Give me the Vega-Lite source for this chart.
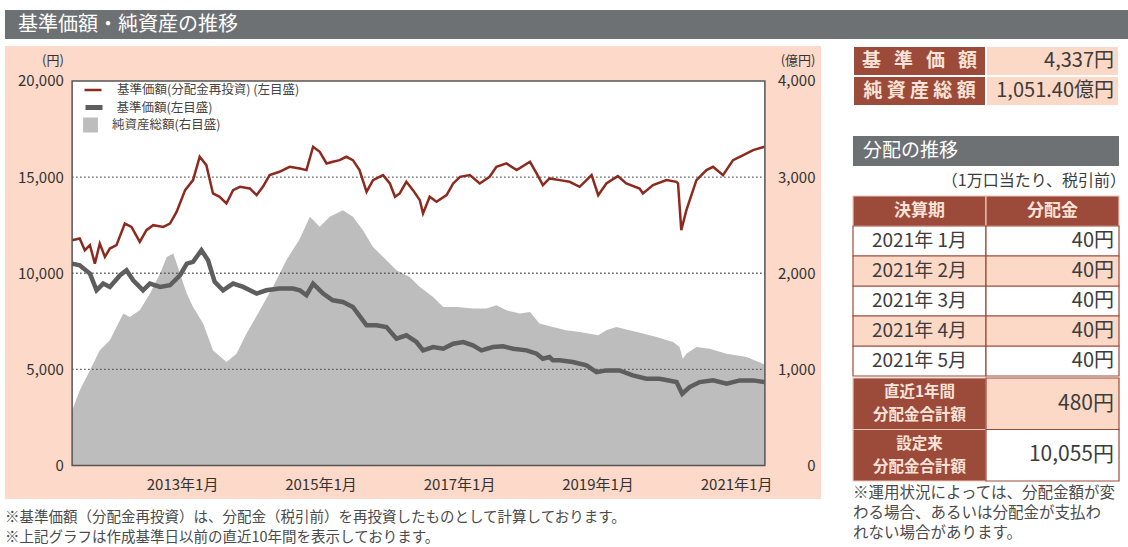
{
  "$schema": "https://vega.github.io/schema/vega-lite/v6.json",
  "background": "white",
  "padding": {"left": 5, "top": 10, "right": 0, "bottom": 0},
  "config": {
    "font": "Noto Sans CJK JP",
    "view": {"stroke": null},
    "axis": {"labelFont": "Noto Sans CJK JP", "titleFont": "Noto Sans CJK JP"},
    "legend": {"labelFont": "Noto Sans CJK JP"},
    "title": {"font": "Noto Sans CJK JP"}
  },
  "datasets": {
    "navr": [
      {"d":"2011-06-01","v":11719},{"d":"2011-07-11","v":11806},{"d":"2011-08-07","v":11198},{"d":"2011-09-03","v":11458},
      {"d":"2011-09-29","v":10503},{"d":"2011-10-25","v":11545},{"d":"2011-11-21","v":10851},{"d":"2011-12-17","v":11285},
      {"d":"2012-01-21","v":11458},{"d":"2012-03-05","v":12587},{"d":"2012-04-09","v":12413},{"d":"2012-05-23","v":11632},
      {"d":"2012-06-27","v":12240},{"d":"2012-08-02","v":12500},{"d":"2012-09-24","v":12413},{"d":"2012-10-29","v":12587},
      {"d":"2012-12-03","v":13194},{"d":"2013-01-17","v":14323},{"d":"2013-02-28","v":14844},{"d":"2013-04-04","v":16059},
      {"d":"2013-05-09","v":15625},{"d":"2013-06-13","v":14149},{"d":"2013-07-18","v":13976},{"d":"2013-08-23","v":13628},
      {"d":"2013-09-27","v":14323},{"d":"2013-11-02","v":14497},{"d":"2013-12-24","v":14410},{"d":"2014-01-29","v":14063},
      {"d":"2014-03-03","v":14497},{"d":"2014-04-08","v":15104},{"d":"2014-05-30","v":15278},{"d":"2014-07-22","v":15538},
      {"d":"2014-09-14","v":15450},{"d":"2014-10-19","v":15365},{"d":"2014-11-23","v":16580},{"d":"2014-12-28","v":16319},
      {"d":"2015-02-02","v":15712},{"d":"2015-03-07","v":15799},{"d":"2015-04-12","v":15885},{"d":"2015-05-17","v":16059},
      {"d":"2015-06-21","v":15885},{"d":"2015-07-26","v":15365},{"d":"2015-09-01","v":14236},{"d":"2015-10-05","v":14844},
      {"d":"2015-11-27","v":15104},{"d":"2016-01-02","v":14670},{"d":"2016-01-29","v":13976},{"d":"2016-02-23","v":14149},
      {"d":"2016-03-29","v":14757},{"d":"2016-05-03","v":14323},{"d":"2016-06-08","v":13802},{"d":"2016-06-25","v":13108},
      {"d":"2016-07-30","v":13976},{"d":"2016-09-04","v":13715},{"d":"2016-10-27","v":14063},{"d":"2016-12-01","v":14670},
      {"d":"2017-01-06","v":15017},{"d":"2017-02-27","v":15104},{"d":"2017-04-20","v":14670},{"d":"2017-06-11","v":15017},
      {"d":"2017-07-17","v":15538},{"d":"2017-09-08","v":15712},{"d":"2017-11-01","v":15365},{"d":"2018-01-10","v":15799},
      {"d":"2018-02-14","v":15191},{"d":"2018-03-19","v":14583},{"d":"2018-04-23","v":14931},{"d":"2018-06-16","v":14844},
      {"d":"2018-08-07","v":14757},{"d":"2018-09-29","v":14497},{"d":"2018-12-01","v":15104},{"d":"2019-01-05","v":14063},
      {"d":"2019-02-17","v":14670},{"d":"2019-04-18","v":15052},{"d":"2019-06-02","v":14670},{"d":"2019-08-11","v":14410},
      {"d":"2019-08-29","v":14149},{"d":"2019-10-21","v":14583},{"d":"2019-12-31","v":14844},{"d":"2020-02-22","v":14757},
      {"d":"2020-03-01","v":14670},{"d":"2020-03-18","v":12240},{"d":"2020-04-14","v":13281},{"d":"2020-06-06","v":14844},
      {"d":"2020-07-29","v":15365},{"d":"2020-09-02","v":15538},{"d":"2020-10-24","v":15104},{"d":"2020-12-16","v":15885},
      {"d":"2021-02-08","v":16146},{"d":"2021-04-01","v":16406},{"d":"2021-05-31","v":16580}
    ],
    "nav": [
      {"d":"2011-06-01","v":10503},{"d":"2011-07-11","v":10417},{"d":"2011-09-03","v":9983},{"d":"2011-10-08","v":9115},
      {"d":"2011-11-12","v":9462},{"d":"2011-12-17","v":9288},{"d":"2012-02-09","v":9896},{"d":"2012-03-14","v":10156},
      {"d":"2012-04-18","v":9635},{"d":"2012-06-09","v":9115},{"d":"2012-07-15","v":9462},{"d":"2012-09-07","v":9288},
      {"d":"2012-10-29","v":9375},{"d":"2012-12-21","v":9896},{"d":"2013-01-26","v":10503},{"d":"2013-02-28","v":10590},
      {"d":"2013-04-13","v":11198},{"d":"2013-05-18","v":10677},{"d":"2013-06-22","v":9549},{"d":"2013-08-05","v":9115},
      {"d":"2013-09-27","v":9462},{"d":"2013-11-19","v":9288},{"d":"2014-01-29","v":8941},{"d":"2014-03-21","v":9115},
      {"d":"2014-05-30","v":9201},{"d":"2014-08-09","v":9201},{"d":"2014-09-14","v":9115},{"d":"2014-10-19","v":8854},
      {"d":"2014-11-23","v":9462},{"d":"2015-01-15","v":8941},{"d":"2015-03-07","v":8594},{"d":"2015-04-29","v":8507},
      {"d":"2015-06-21","v":8247},{"d":"2015-09-01","v":7292},{"d":"2015-10-23","v":7292},{"d":"2015-12-15","v":7205},
      {"d":"2016-02-06","v":6597},{"d":"2016-03-29","v":6771},{"d":"2016-05-21","v":6424},{"d":"2016-06-25","v":5990},
      {"d":"2016-08-17","v":6163},{"d":"2016-10-09","v":6076},{"d":"2016-12-01","v":6337},{"d":"2017-01-23","v":6424},
      {"d":"2017-03-15","v":6250},{"d":"2017-04-29","v":5990},{"d":"2017-06-29","v":6163},{"d":"2017-08-21","v":6198},
      {"d":"2017-10-13","v":6076},{"d":"2017-12-23","v":5990},{"d":"2018-02-14","v":5816},{"d":"2018-03-19","v":5556},
      {"d":"2018-04-23","v":5642},{"d":"2018-05-11","v":5469},{"d":"2018-06-16","v":5469},{"d":"2018-08-24","v":5382},
      {"d":"2018-11-04","v":5208},{"d":"2018-12-27","v":4861},{"d":"2019-02-17","v":4948},{"d":"2019-04-27","v":4948},
      {"d":"2019-07-06","v":4688},{"d":"2019-09-16","v":4514},{"d":"2019-11-25","v":4514},{"d":"2020-02-22","v":4340},
      {"d":"2020-03-23","v":3733},{"d":"2020-05-01","v":4080},{"d":"2020-06-23","v":4340},{"d":"2020-09-02","v":4427},
      {"d":"2020-11-12","v":4253},{"d":"2021-01-21","v":4427},{"d":"2021-04-01","v":4427},{"d":"2021-05-31","v":4337}
    ],
    "aum": [
      {"d":"2011-06-01","v":573},{"d":"2011-07-11","v":781},{"d":"2011-09-03","v":990},{"d":"2011-10-25","v":1198},
      {"d":"2011-12-17","v":1302},{"d":"2012-02-26","v":1580},{"d":"2012-03-31","v":1545},{"d":"2012-05-23","v":1615},
      {"d":"2012-07-15","v":1788},{"d":"2012-09-07","v":1997},{"d":"2012-10-12","v":2170},{"d":"2012-11-16","v":2205},
      {"d":"2012-12-21","v":1997},{"d":"2013-01-26","v":1788},{"d":"2013-02-28","v":1649},{"d":"2013-04-22","v":1476},
      {"d":"2013-06-13","v":1198},{"d":"2013-08-23","v":1076},{"d":"2013-10-15","v":1163},{"d":"2013-12-07","v":1372},
      {"d":"2014-02-15","v":1615},{"d":"2014-04-25","v":1857},{"d":"2014-07-05","v":2135},{"d":"2014-09-14","v":2360},
      {"d":"2014-11-06","v":2587},{"d":"2014-12-28","v":2483},{"d":"2015-02-19","v":2587},{"d":"2015-04-29","v":2656},
      {"d":"2015-06-21","v":2587},{"d":"2015-08-13","v":2448},{"d":"2015-10-05","v":2274},{"d":"2015-12-15","v":2135},
      {"d":"2016-02-06","v":2031},{"d":"2016-04-16","v":1962},{"d":"2016-06-08","v":1857},{"d":"2016-08-17","v":1753},
      {"d":"2016-10-09","v":1649},{"d":"2016-12-19","v":1649},{"d":"2017-03-15","v":1632},{"d":"2017-05-25","v":1632},
      {"d":"2017-07-17","v":1667},{"d":"2017-09-08","v":1615},{"d":"2017-11-18","v":1580},{"d":"2018-01-10","v":1597},
      {"d":"2018-03-01","v":1476},{"d":"2018-05-11","v":1441},{"d":"2018-07-20","v":1406},{"d":"2018-09-29","v":1389},
      {"d":"2019-01-05","v":1354},{"d":"2019-02-17","v":1406},{"d":"2019-04-10","v":1441},{"d":"2019-06-19","v":1406},
      {"d":"2019-08-29","v":1372},{"d":"2019-11-08","v":1337},{"d":"2020-02-04","v":1285},{"d":"2020-03-09","v":1233},
      {"d":"2020-03-26","v":1111},{"d":"2020-04-14","v":1163},{"d":"2020-06-06","v":1233},{"d":"2020-08-15","v":1215},
      {"d":"2020-11-12","v":1163},{"d":"2021-02-26","v":1128},{"d":"2021-05-31","v":1051}
    ],
    "grid": [{"g":5000},{"g":10000},{"g":15000}],
    "one": [{"k":"plot"}],
    "cells": [
      {"r":"t1a","c":"L","t":"基\u00a0\u00a0\u00a0準\u00a0\u00a0\u00a0価\u00a0\u00a0\u00a0額"},{"r":"t1a","c":"R","t":"4,337円"},
      {"r":"t1b","c":"L","t":"純\u00a0資\u00a0産\u00a0総\u00a0額"},{"r":"t1b","c":"R","t":"1,051.40億円"},
      {"r":"bar","c":"L","t":"分配の推移"},{"r":"bar","c":"R","t":""},
      {"r":"note","c":"R","t":"（1万口当たり、税引前）"},
      {"r":"hdr","c":"L","t":"決算期"},{"r":"hdr","c":"R","t":"分配金"},
      {"r":"r1","c":"L","t":"2021年 1月"},{"r":"r1","c":"R","t":"40円"},
      {"r":"r2","c":"L","t":"2021年 2月"},{"r":"r2","c":"R","t":"40円"},
      {"r":"r3","c":"L","t":"2021年 3月"},{"r":"r3","c":"R","t":"40円"},
      {"r":"r4","c":"L","t":"2021年 4月"},{"r":"r4","c":"R","t":"40円"},
      {"r":"r5","c":"L","t":"2021年 5月"},{"r":"r5","c":"R","t":"40円"}
    ],
    "totals": [
      {"r":"t3a","c":"L","t":"直近1年間\n分配金合計額"},{"r":"t3a","c":"R","t":"480円"},
      {"r":"t3b","c":"L","t":"設定来\n分配金合計額"},{"r":"t3b","c":"R","t":"10,055円"}
    ]
  },
  "vconcat": [
    {
      "width": 1123,
      "height": 29,
      "view": {"fill": "#6d7174", "stroke": null},
      "data": {"values": [{"t": "基準価額・純資産の推移"}]},
      "mark": {"type": "text", "align": "left", "baseline": "middle", "dx": 13, "fontSize": 20, "color": "white"},
      "encoding": {
        "x": {"field": "t", "type": "nominal", "axis": null, "bandPosition": 0, "scale": {"type": "band", "paddingInner": 0, "paddingOuter": 0}},
        "text": {"field": "t"}
      }
    },
    {
      "hconcat": [
        {
          "width": 816,
          "height": 453,
          "view": {"fill": "#fcd9c8", "stroke": null},
          "title": {
            "text": ["※基準価額（分配金再投資）は、分配金（税引前）を再投資したものとして計算しております。", "※上記グラフは作成基準日以前の直近10年間を表示しております。"],
            "orient": "bottom", "anchor": "start", "frame": "group", "offset": 12,
            "fontSize": 14.5, "fontWeight": "normal", "color": "#4a4a4a", "lineHeight": 20
          },
          "resolve": {"scale": {"y": "independent"}},
          "layer": [
            {
              "data": {"name": "one"},
              "mark": {"type": "rect", "fill": "white"},
              "encoding": {
                "x": {"datum": {"year": 2011, "month": 6, "date": 1, "utc": true}, "type": "temporal",
                      "scale": {"type": "utc", "domain": [{"year": 2010, "month": 6, "date": 12, "utc": true}, {"year": 2022, "month": 3, "date": 25, "utc": true}]},
                      "axis": {"orient": "bottom", "offset": -33.5,
                               "values": [{"year": 2013, "month": 1, "date": 1, "utc": true}, {"year": 2015, "month": 1, "date": 1, "utc": true}, {"year": 2017, "month": 1, "date": 1, "utc": true}, {"year": 2019, "month": 1, "date": 1, "utc": true}, {"year": 2021, "month": 1, "date": 1, "utc": true}],
                               "format": "%Y年%-m月", "title": null, "domain": false, "grid": false,
                               "ticks": true, "tickSize": -7, "tickColor": "#444", "tickWidth": 1.2,
                               "labelPadding": 25.5, "labelBaseline": "middle", "labelFontSize": 15, "labelColor": "#333",
                               "labelFlush": false, "labelOverlap": false}},
                "x2": {"datum": {"year": 2021, "month": 6, "date": 2, "utc": true}},
                "y": {"datum": 0, "type": "quantitative",
                      "scale": {"domain": [-1742.5, 21820.5], "nice": false, "zero": false},
                      "axis": {"orient": "left", "offset": -67.3, "values": [0, 5000, 10000, 15000, 20000], "format": ",d",
                               "title": "(円)", "titleAngle": 0, "titleX": -9, "titleY": 14, "titleAlign": "right", "titleBaseline": "middle",
                               "titleFontSize": 13, "titleFontWeight": "normal", "titleColor": "#333",
                               "domain": false, "ticks": false, "grid": false, "labelPadding": 9, "labelFontSize": 15, "labelColor": "#333",
                               "labelOverlap": false, "labelFlush": false}},
                "y2": {"datum": 20000}
              }
            },
            {
              "data": {"name": "aum"},
              "mark": {"type": "area", "opacity": 1},
              "encoding": {
                "x": {"field": "d", "type": "temporal",
                      "axis": {"orient": "bottom", "offset": -33.5,
                               "values": [{"year": 2013, "month": 1, "date": 1, "utc": true}, {"year": 2015, "month": 1, "date": 1, "utc": true}, {"year": 2017, "month": 1, "date": 1, "utc": true}, {"year": 2019, "month": 1, "date": 1, "utc": true}, {"year": 2021, "month": 1, "date": 1, "utc": true}],
                               "format": "%Y年%-m月", "title": null, "domain": false, "grid": false,
                               "ticks": true, "tickSize": -7, "tickColor": "#444", "tickWidth": 1.2,
                               "labelPadding": 25.5, "labelBaseline": "middle", "labelFontSize": 15, "labelColor": "#333",
                               "labelFlush": false, "labelOverlap": false}},
                "y": {"field": "v", "type": "quantitative",
                      "scale": {"domain": [-348.5, 4364.1], "nice": false, "zero": false},
                      "axis": {"orient": "right", "offset": -56, "values": [0, 1000, 2000, 3000, 4000], "format": ",d",
                               "title": "(億円)", "titleAngle": 0, "titleX": 50, "titleY": 14, "titleAlign": "right", "titleBaseline": "middle",
                               "titleFontSize": 13, "titleFontWeight": "normal", "titleColor": "#333",
                               "domain": false, "ticks": false, "grid": false, "labelAlign": "right", "labelPadding": 50,
                               "labelFontSize": 15, "labelColor": "#333", "labelOverlap": false, "labelFlush": false}},
                "fill": {"datum": "純資産総額(右目盛)", "type": "nominal",
                         "scale": {"domain": ["純資産総額(右目盛)"], "range": ["#bdbdbd"]},
                         "legend": {"orient": "none", "legendX": 78, "legendY": 107, "title": null,
                                    "labelFontSize": 12.5, "labelColor": "#444", "labelLimit": 400, "symbolType": "square", "symbolSize": 220,
                                    "symbolStrokeWidth": 0, "symbolOpacity": 1, "clipHeight": 16, "labelOffset": 14}}
              }
            },
            {
              "data": {"name": "grid"},
              "mark": {"type": "rule", "strokeDash": [1.5, 2.5], "color": "#555", "strokeWidth": 1.3},
              "encoding": {
                "x": {"datum": {"year": 2011, "month": 6, "date": 1, "utc": true}, "type": "temporal"},
                "x2": {"datum": {"year": 2021, "month": 6, "date": 2, "utc": true}},
                "y": {"field": "g", "type": "quantitative", "scale": {"domain": [-1742.5, 21820.5], "nice": false, "zero": false}, "axis": null}
              }
            },
            {
              "data": {"name": "nav"},
              "mark": {"type": "line", "strokeWidth": 4.5},
              "encoding": {
                "x": {"field": "d", "type": "temporal", "title": null},
                "y": {"field": "v", "type": "quantitative", "scale": {"domain": [-1742.5, 21820.5], "nice": false, "zero": false}, "axis": null},
                "color": {"datum": "基準価額(左目盛)", "type": "nominal",
                          "scale": {"domain": ["基準価額(左目盛)"], "range": ["#5e5e5e"]},
                          "legend": {"orient": "none", "legendX": 78, "legendY": 89.5, "title": null,
                                     "labelFontSize": 12.5, "labelColor": "#444", "labelLimit": 400, "symbolType": "stroke", "symbolSize": 289,
                                     "symbolStrokeWidth": 5, "clipHeight": 16, "labelOffset": 11.5}}
              }
            },
            {
              "data": {"name": "navr"},
              "mark": {"type": "line", "strokeWidth": 2.5},
              "encoding": {
                "x": {"field": "d", "type": "temporal", "title": null},
                "y": {"field": "v", "type": "quantitative", "scale": {"domain": [-1742.5, 21820.5], "nice": false, "zero": false}, "axis": null},
                "stroke": {"datum": "基準価額(分配金再投資) (左目盛)", "type": "nominal",
                           "scale": {"domain": ["基準価額(分配金再投資) (左目盛)"], "range": ["#8c2a1f"]},
                           "legend": {"orient": "none", "legendX": 78, "legendY": 72, "title": null,
                                      "labelFontSize": 12.5, "labelColor": "#444", "labelLimit": 400, "symbolType": "stroke", "symbolSize": 289,
                                      "symbolStrokeWidth": 2.5, "clipHeight": 16, "labelOffset": 14}}
              }
            },
            {
              "data": {"name": "one"},
              "mark": {"type": "rect", "filled": false, "stroke": "#555", "strokeWidth": 1.5},
              "encoding": {
                "x": {"datum": {"year": 2011, "month": 6, "date": 1, "utc": true}, "type": "temporal"},
                "x2": {"datum": {"year": 2021, "month": 6, "date": 2, "utc": true}},
                "y": {"datum": 0, "type": "quantitative", "scale": {"domain": [-1742.5, 21820.5], "nice": false, "zero": false}, "axis": null},
                "y2": {"datum": 20000}
              }
            }
          ]
        },
        {
          "spacing": 0,
          "vconcat": [
            {
              "width": 266,
              "height": 330,
              "data": {"name": "cells"},
              "encoding": {
                "x": {"field": "c", "type": "nominal", "axis": null, "scale": {"type": "band", "domain": ["L", "R"], "paddingInner": 0, "paddingOuter": 0}},
                "y": {"field": "r", "type": "ordinal", "axis": null, "scale": {"type": "band", "domain": ["t1a", "t1b", "gap", "bar", "note", "hdr", "r1", "r2", "r3", "r4", "r5"], "paddingInner": 0, "paddingOuter": 0}}
              },
              "layer": [
                {"transform": [{"filter": {"and": [{"field": "r", "oneOf": ["t1a", "t1b"]}, {"field": "c", "equal": "L"}]}}],
                 "mark": {"type": "rect", "fill": "#9c4a3a", "stroke": "white", "strokeWidth": 2}},
                {"transform": [{"filter": {"and": [{"field": "r", "oneOf": ["t1a", "t1b"]}, {"field": "c", "equal": "R"}]}}],
                 "mark": {"type": "rect", "fill": "#fcd8c7", "stroke": "white", "strokeWidth": 2}},
                {"transform": [{"filter": {"field": "r", "equal": "bar"}}],
                 "mark": {"type": "rect", "fill": "#6d7174"}},
                {"transform": [{"filter": {"field": "r", "equal": "hdr"}}],
                 "mark": {"type": "rect", "fill": "#9c4a3a", "stroke": "#ecc6b7", "strokeWidth": 1.2}},
                {"transform": [{"filter": {"field": "r", "oneOf": ["r1", "r3", "r5"]}}],
                 "mark": {"type": "rect", "fill": "white", "stroke": "#9c4a3a", "strokeWidth": 1.2}},
                {"transform": [{"filter": {"field": "r", "oneOf": ["r2", "r4"]}}],
                 "mark": {"type": "rect", "fill": "#fcd8c7", "stroke": "#9c4a3a", "strokeWidth": 1.2}},
                {"transform": [{"filter": {"and": [{"field": "r", "oneOf": ["t1a", "t1b"]}, {"field": "c", "equal": "L"}]}}],
                 "mark": {"type": "text", "fontSize": 19, "fontWeight": "bold", "color": "#f9e2d8"},
                 "encoding": {"text": {"field": "t"}}},
                {"transform": [{"filter": {"field": "r", "equal": "hdr"}}],
                 "mark": {"type": "text", "fontSize": 17, "fontWeight": "bold", "color": "#f9e2d8"},
                 "encoding": {"text": {"field": "t"}}},
                {"transform": [{"filter": {"and": [{"field": "r", "oneOf": ["r1", "r2", "r3", "r4", "r5"]}, {"field": "c", "equal": "L"}]}}],
                 "mark": {"type": "text", "fontSize": 19, "color": "#3c3c3c"},
                 "encoding": {"text": {"field": "t"}}},
                {"transform": [{"filter": {"and": [{"field": "r", "oneOf": ["t1a", "t1b", "r1", "r2", "r3", "r4", "r5"]}, {"field": "c", "equal": "R"}]}}],
                 "mark": {"type": "text", "fontSize": 20, "color": "#3c3c3c", "align": "right", "dx": -5},
                 "encoding": {"x": {"field": "c", "type": "nominal", "bandPosition": 1}, "text": {"field": "t"}}},
                {"transform": [{"filter": {"and": [{"field": "r", "equal": "bar"}, {"field": "c", "equal": "L"}]}}],
                 "mark": {"type": "text", "fontSize": 19, "color": "white", "align": "left", "dx": 10},
                 "encoding": {"x": {"field": "c", "type": "nominal", "bandPosition": 0}, "text": {"field": "t"}}},
                {"transform": [{"filter": {"field": "r", "equal": "note"}}],
                 "mark": {"type": "text", "fontSize": 16, "color": "#3c3c3c", "align": "right", "dx": 7},
                 "encoding": {"x": {"field": "c", "type": "nominal", "bandPosition": 1}, "text": {"field": "t"}}}
              ]
            },
            {
              "width": 266,
              "height": 103,
              "data": {"name": "totals"},
              "title": {
                "text": ["※運用状況によっては、分配金額が変", "　わる場合、あるいは分配金が支払わ", "　れない場合があります。"],
                "orient": "bottom", "anchor": "start", "frame": "group", "offset": 4,
                "fontSize": 15.5, "fontWeight": "normal", "color": "#4a4a4a", "lineHeight": 20
              },
              "encoding": {
                "x": {"field": "c", "type": "nominal", "axis": null, "scale": {"type": "band", "domain": ["L", "R"], "paddingInner": 0, "paddingOuter": 0}},
                "y": {"field": "r", "type": "ordinal", "axis": null, "scale": {"type": "band", "domain": ["t3a", "t3b"], "paddingInner": 0, "paddingOuter": 0}}
              },
              "layer": [
                {"transform": [{"filter": {"field": "c", "equal": "L"}}],
                 "mark": {"type": "rect", "fill": "#9c4a3a", "stroke": "#ecc6b7", "strokeWidth": 1.2}},
                {"transform": [{"filter": {"and": [{"field": "c", "equal": "R"}, {"field": "r", "equal": "t3a"}]}}],
                 "mark": {"type": "rect", "fill": "#fcd8c7", "stroke": "#9c4a3a", "strokeWidth": 1.2}},
                {"transform": [{"filter": {"and": [{"field": "c", "equal": "R"}, {"field": "r", "equal": "t3b"}]}}],
                 "mark": {"type": "rect", "fill": "white", "stroke": "#9c4a3a", "strokeWidth": 1.2}},
                {"transform": [{"filter": {"field": "c", "equal": "L"}}],
                 "mark": {"type": "text", "fontSize": 15.5, "fontWeight": "bold", "color": "#f9e2d8", "lineBreak": "\n", "lineHeight": 23, "dy": -11.5},
                 "encoding": {"text": {"field": "t"}}},
                {"transform": [{"filter": {"field": "c", "equal": "R"}}],
                 "mark": {"type": "text", "fontSize": 21, "color": "#3c3c3c", "align": "right", "dx": -5},
                 "encoding": {"x": {"field": "c", "type": "nominal", "bandPosition": 1}, "text": {"field": "t"}}}
              ]
            }
          ]
        }
      ],
      "spacing": 31
    }
  ],
  "spacing": 6
}
